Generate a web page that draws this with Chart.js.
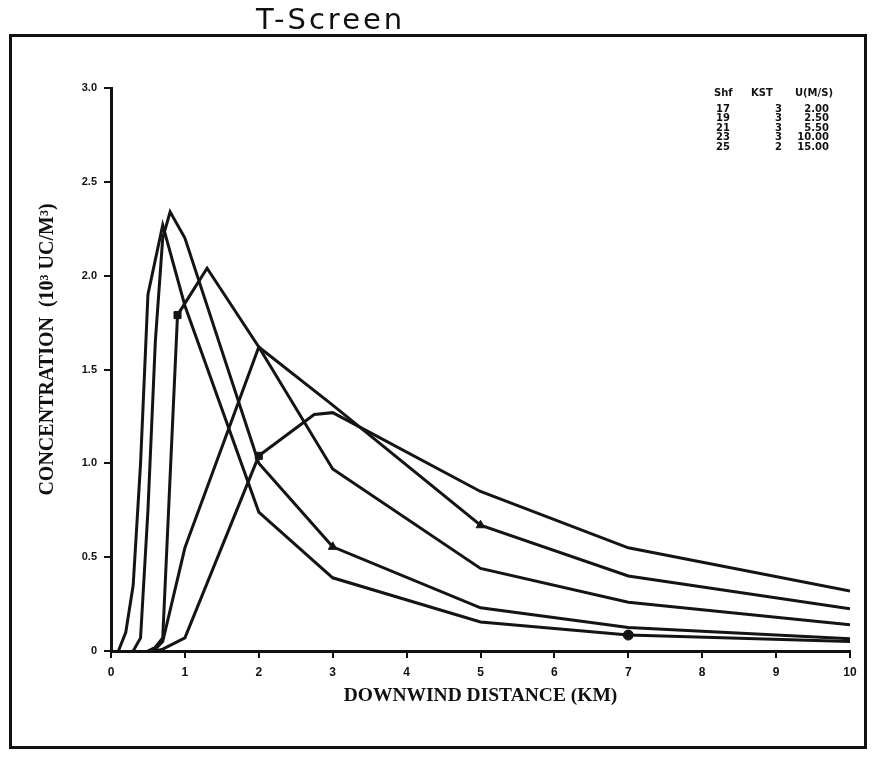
<!DOCTYPE html>
<html>
<head>
<meta charset="utf-8">
<script src="https://cdn.jsdelivr.net/npm/chart.js@4"></script>
<style>
  html, body { margin:0; padding:0; background:#fff; }
  #wrap { position:relative; width:875px; height:757px; }
  canvas { position:absolute; left:0; top:0; }
  #frame { position:absolute; left:9px; top:34px; width:852px; height:709px; border:3px solid #111; pointer-events:none; }
  #title { position:absolute; left:256px; top:2px; font-family:"DejaVu Sans", sans-serif; font-size:29px; color:#111; letter-spacing:3px; }
  .lg { position:absolute; font-family:"DejaVu Sans", sans-serif; font-weight:bold; font-size:10px; line-height:10px; color:#111; white-space:pre; }
</style>
</head>
<body>
<div id="wrap">
  <canvas id="c" width="875" height="757"></canvas>
  <div id="frame"></div>
  <div id="title">T-Screen</div>
  <div id="legend"></div>
</div>
<script>
// ---- data ----
const xTicks = [0,1,2,3,4,5,6,7,8,9,10];
const yTicks = ["0","0.5","1.0","1.5","2.0","2.5","3.0"];

const runIds = ["17","19","21","23","25"];
const kstVals = ["3","3","3","3","2"];
const windSpeeds = ["2.00","2.50","5.50","10.00","15.00"];

const distA = [0.3,0.4,0.5,0.6,0.7,0.8,1.0,2.0,3.0,5.0,7.0,10.0];
const concA = [0,0.07,0.75,1.65,2.2,2.34,2.2,1.0,0.555,0.23,0.125,0.065];

const distB = [0.1,0.2,0.3,0.4,0.5,0.7,1.0,2.0,3.0,5.0,7.0,10.0];
const concB = [0,0.1,0.35,1.0,1.9,2.27,1.84,0.74,0.39,0.155,0.085,0.05];

const distC = [0.5,0.6,0.7,0.9,1.3,2.0,3.0,5.0,7.0,10.0];
const concC = [0,0.02,0.07,1.79,2.04,1.62,0.97,0.44,0.26,0.14];

const distD = [0.5,0.6,0.7,1.0,2.0,3.0,5.0,7.0,10.0];
const concD = [0,0.01,0.05,0.55,1.62,1.31,0.67,0.40,0.225];

const distE = [0.6,0.7,0.8,1.0,2.0,2.75,3.0,5.0,7.0,10.0];
const concE = [0,0.01,0.03,0.07,1.04,1.26,1.27,0.85,0.55,0.32];

// ---- build ----
function pts(xs, ys){ return xs.map((x,i)=>({x:x, y:ys[i]})); }
function ds(xs, ys, markIdx, style){
  return {
    data: pts(xs, ys),
    borderColor:'#141414', backgroundColor:'#141414',
    borderWidth:3, tension:0, fill:false,
    pointStyle: style,
    pointRadius: ctx => ctx.dataIndex === markIdx ? 5 : 0,
    pointBorderWidth:1
  };
}
const datasets = [
  ds(distA, concA, distA.indexOf(3.0), 'triangle'),
  ds(distB, concB, distB.indexOf(7.0), 'circle'),
  ds(distC, concC, distC.indexOf(0.9), 'rect'),
  ds(distD, concD, distD.indexOf(5.0), 'triangle'),
  ds(distE, concE, distE.indexOf(2.0), 'rect')
];

// legend table
(function(){
  const L = document.getElementById('legend');
  function put(txt, x, y, alignRight){
    const d = document.createElement('div');
    d.className = 'lg'; d.textContent = txt;
    d.style.top = y + 'px';
    if (alignRight) { d.style.right = (875 - x) + 'px'; } else { d.style.left = x + 'px'; }
    L.appendChild(d);
  }
  put("Shf", 714, 88, false);
  put("KST", 751, 88, false);
  put("U(M/S)", 833, 88, true);
  for (let i=0;i<runIds.length;i++){
    const y = 103.5 + i*9.5;
    put(runIds[i], 716, y, false);
    put(kstVals[i], 782, y, true);
    put(windSpeeds[i], 829, y, true);
  }
})();

const NB = '\u00A0';
new Chart(document.getElementById('c'), {
  type:'line',
  data:{ datasets },
  options:{
    responsive:false, animation:false,
    layout:{ padding:{ left:0, right:25, top:88, bottom:0 } },
    plugins:{ legend:{display:false}, tooltip:{enabled:false}, title:{display:false} },
    scales:{
      x:{
        type:'linear', min:0, max:10,
        afterBuildTicks: s => { s.ticks = xTicks.map(v=>({value:v})); },
        afterFit: s => { s.height = 106; },
        ticks:{ color:'#111', font:{family:'Liberation Sans', weight:'bold', size:12}, padding:7,
                callback: v => String(v) },
        grid:{ drawOnChartArea:false, drawTicks:true, tickLength:7, color:'#111', lineWidth:2 },
        border:{ display:true, color:'#111', width:3 },
        title:{ display:true, text:'DOWNWIND DISTANCE (KM)', color:'#111',
                font:{family:'Liberation Serif', weight:'bold', size:19.5}, padding:{top:0,bottom:49} }
      },
      y:{
        type:'linear', min:0, max:3,
        afterBuildTicks: s => { s.ticks = yTicks.map(t=>({value:parseFloat(t)})); },
        afterFit: s => { s.width = 111; },
        ticks:{ color:'#111', font:{family:'Liberation Sans', weight:'bold', size:11}, padding:7,
                callback: (v,i) => yTicks[i] },
        grid:{ drawOnChartArea:false, drawTicks:true, tickLength:7, color:'#111', lineWidth:2 },
        border:{ display:true, color:'#111', width:3 },
        title:{ display:true, text: NB.repeat(8) + 'CONCENTRATION  (10\u00B3 UC/M\u00B3)', color:'#111',
                font:{family:'Liberation Serif', weight:'bold', size:20}, padding:{top:36,bottom:0} }
      }
    }
  }
});
</script>
</body>
</html>
